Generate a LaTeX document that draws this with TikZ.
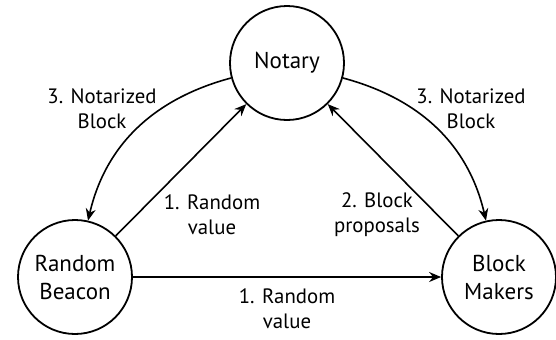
\documentclass[tikz,border=0pt]{standalone}
\usepackage{fontspec}
\setmainfont{PT Sans}
\usetikzlibrary{arrows.meta}

\tikzset{
	party/.style={draw, circle, line width=0.9pt, minimum size=57pt, inner sep=0pt, align=center, font=\fontsize{11.5}{14}\selectfont},
	msg/.style={align=center, font=\fontsize{10.4}{12.5}\selectfont},
	flow/.style={-{Stealth[length=6pt,width=5pt,inset=2pt]}, line width=0.8pt}
}

\begin{document}
\begin{tikzpicture}[x=0.5pt,y=-0.5pt]
	\useasboundingbox (0,0) rectangle (556,339);
	%% parties
	\node[party] (notary) at (287,63) {Notary};
	\node[party] (beacon) at (75,277) {Random\\Beacon};
	\node[party] (makers) at (499,277) {Block\\Makers};
	
	%% messages
	\draw[flow] (beacon) -- (notary);
	\draw[flow] (makers) -- (notary);
	\draw[flow] (beacon) -- (makers);
	\draw[flow] (notary) to[out=195,in=77] (beacon);
	\draw[flow] (notary) to[out=-15,in=103] (makers);
	
	%% labels
	\node[msg] (lrv) at (212,215) {1. Random\\value};
	\node[msg] (lbp) at (377,215) {2. Block\\proposals};
	\node[msg] (lrb) at (287,309) {1. Random\\value};
	\node[msg] (lnl) at (102,109) {3. Notarized\\Block};
	\node[msg] (lnr) at (471,109) {3. Notarized\\Block};
\end{tikzpicture}
\end{document}
